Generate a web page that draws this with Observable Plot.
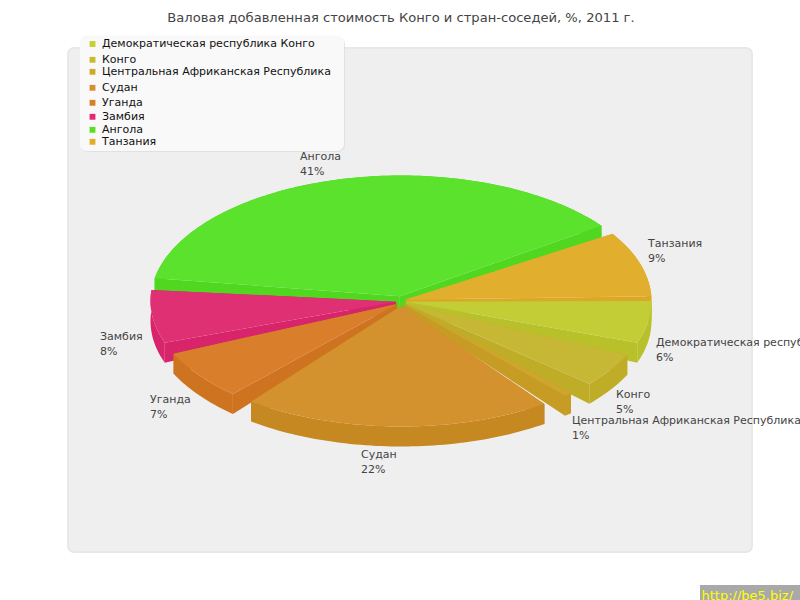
<!DOCTYPE html>
<html><head><meta charset="utf-8">
<script src="https://cdn.jsdelivr.net/npm/d3@7"></script>
<script src="https://cdn.jsdelivr.net/npm/@observablehq/plot@0.6"></script>
<style>html,body{margin:0;padding:0;background:#fff;overflow:hidden}svg{display:block}</style>
</head><body><div id="chart"></div>
<script>
const title = "Валовая добавленная стоимость Конго и стран-соседей, %, 2011 г.";
const countries = ["Демократическая республика Конго","Конго","Центральная Африканская Республика","Судан","Уганда","Замбия","Ангола","Танзания"];
const shares = [6.07,4.95,0.56,22.4,7.2,7.65,41.47,9.45];
const topColors = ["#c3cd35","#c6b735","#cfa52e","#d3922d","#d97e2a","#e03074","#5ae22c","#e2ae2d"];
const wallColors = ["#b9c12a","#c0ad27","#c79c25","#c68820","#ce7420","#d8246a","#4fd81f","#dca827"];
const legendColors = ["#c7cf31","#c9ba30","#d0a92c","#d6902d","#dc7d2a","#e52a73","#55e025","#e3ad2b"];
// layout
const legendRows = [43.2,59,71,87,102,116,129,141];
const labelSpots = [[655.5,342],[615.5,394],[571.5,420],[360.5,454],[149.5,399],[99.5,336],[299.5,156],[647.5,243]];
const gaps = [1.67,1.67,1.67,1.5,1.5,1.5,1.25,0];

const cx = 400.5, cy = 300.5, rx = 250.5, ry = 125.5, depth = 20, tipShift = 5;
const scale = 88.65 / d3.sum(shares);   // percent of the circle
const pt = (pct, dy = 0) => {
  const a = pct / 100 * 2 * Math.PI;
  return [cx + rx * Math.cos(a), cy + ry * Math.sin(a) + dy];
};
let cum = 0;
const slices = shares.map((v, i) => {
  const start = cum, end = cum + v * scale;
  cum = end + gaps[i];
  const mid = (start + end) / 2, a = mid / 100 * 2 * Math.PI;
  const n = Math.max(2, Math.ceil((end - start) * 3));
  const arc = d3.range(n + 1).map(k => start + (end - start) * k / n);
  const tip = [cx + tipShift * Math.cos(a), cy + tipShift * Math.sin(a)];
  return {i, start, end, arc, tip, sin: Math.sin(a)};
}).sort((p, q) => p.sin - q.sin);

const poly = (points, fill) => Plot.line(points, {x: d => d[0], y: d => d[1], fill, stroke: "none"});
const pieMarks = slices.flatMap(s => {
  const tipLow = [s.tip[0], cy + 9];
  return [
    poly([...s.arc.map(p => pt(p)), ...s.arc.slice().reverse().map(p => pt(p, depth))], wallColors[s.i]),
    poly([s.tip, pt(s.start), pt(s.start, depth), tipLow], wallColors[s.i]),
    poly([s.tip, pt(s.end), pt(s.end, depth), tipLow], wallColors[s.i]),
    poly([s.tip, ...s.arc.map(p => pt(p))], topColors[s.i])
  ];
});

const idx = d3.range(countries.length);
const plot = Plot.plot({
  width: 800, height: 600, margin: 0,
  x: {domain: [0, 800], range: [0, 800], axis: null},
  y: {domain: [0, 600], range: [0, 600], axis: null},
  style: {background: "#fff", fontFamily: "'DejaVu Sans',sans-serif"},
  marks: [
    Plot.rect([0], {x1: 68, x2: 752, y1: 48, y2: 552, rx: 6, fill: "#efefef", stroke: "#e8e8e8", strokeWidth: 2}),
    ...pieMarks,
    Plot.rect([0], {x1: 81, x2: 345, y1: 37, y2: 152, rx: 7, fill: "#dcdcdc", fillOpacity: 0.7}),
    Plot.rect([0], {x1: 80, x2: 344, y1: 35.5, y2: 151, rx: 7, fill: "#f9f9f9"}),
    Plot.dot(idx, {x: 92, y: i => legendRows[i] + 0.3, symbol: "square", r: 3.3, fill: i => legendColors[i], stroke: "none"}),
    Plot.text(idx, {x: 101.5, y: i => legendRows[i], text: i => countries[i], textAnchor: "start", fontSize: 11, fill: "#111"}),
    Plot.text(idx, {x: i => labelSpots[i][0], y: i => labelSpots[i][1], text: i => countries[i], textAnchor: "start", fontSize: 11, fill: "#444"}),
    Plot.text(idx, {x: i => labelSpots[i][0], y: i => labelSpots[i][1] + 15, text: i => Math.round(shares[i]) + "%", textAnchor: "start", fontSize: 11, fill: "#444"}),
    Plot.text([title], {x: 400.5, y: 17, text: d => d, fontSize: 13.1, fill: "#444", textAnchor: "middle"}),
    Plot.rect([0], {x1: 700, x2: 800, y1: 585, y2: 600, fill: "#a9a9a9"}),
    Plot.text(["http://be5.biz/"], {x: 701, y: 595.5, text: d => d, textAnchor: "start", fontSize: 13, fill: "#ffff00"})
  ]
});
document.getElementById("chart").append(plot);
</script></body></html>
